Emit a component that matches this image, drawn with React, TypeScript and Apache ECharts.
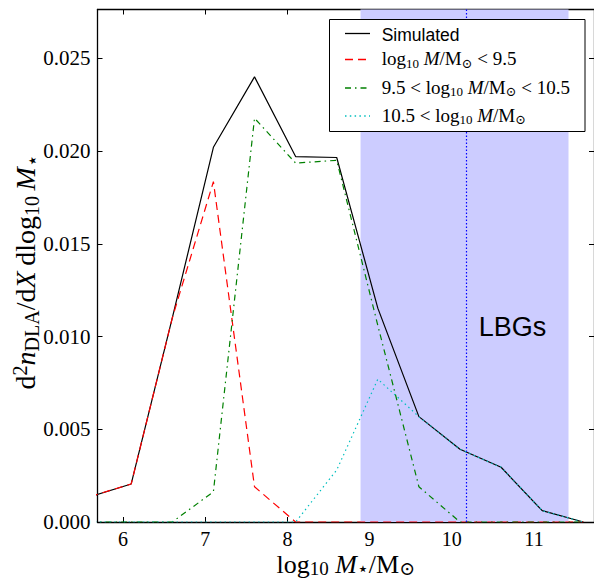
import React, { useEffect, useRef } from "react";
import * as echarts from "echarts";

// log10 stellar-mass bin centres
const massBins = [5.6, 6.1, 6.6, 7.1, 7.6, 8.1, 8.6, 9.1, 9.6, 10.1, 10.6, 11.1, 11.6];
const simulated = [0.00137, 0.00205, 0.011, 0.0202, 0.024, 0.0197, 0.01965, 0.01153, 0.00568, 0.00392, 0.00295, 0.00061, 0.0];
const lowHalo = [0.00137, 0.00205, 0.011, 0.01835, 0.0019, 0.0, 0.0, 0.0, 0.0, 0.0, 0.0, 0.0, 0.0];
const midHalo = [0.0, 0.0, 0.0, 0.00163, 0.02177, 0.01935, 0.0195, 0.0106, 0.0019, 0.0, 0.0, 0.0, 0.0];
const highHalo = [0.0, 0.0, 0.0, 0.0, 0.0, 0.0, 0.0028, 0.0077, 0.00568, 0.00392, 0.00295, 0.00061, 0.0];

const xTicks = [6, 7, 8, 9, 10, 11];
const yTicks = [0, 0.005, 0.01, 0.015, 0.02, 0.025];
const xRange = [5.69, 11.73];
const yRange = [0, 0.02763];
const lbgBand = [8.89, 11.42];
const lbgMedian = 10.18;

const SERIF = '"Liberation Serif", "DejaVu Serif", serif';
const SANS = '"Liberation Sans", Arial, sans-serif';

export default function App() {
  const ref = useRef<HTMLDivElement>(null);
  useEffect(() => {
    document.body.style.margin = "0";
    const chart = echarts.init(ref.current!, null, { renderer: "svg" });
    const pair = (ys: number[]) => massBins.map((x, i) => [x, ys[i]]);
    const spine = { show: true, onZero: false, lineStyle: { color: "#000", width: 1.3 } };
    const tick = (vals: number[]) => ({
      show: true,
      inside: true,
      length: 5,
      customValues: vals,
      lineStyle: { color: "#000", width: 1 },
    });

    const xTitleRich = {
      i: { fontFamily: SERIF, fontSize: 26, fontStyle: "italic", lineHeight: 28, color: "#000" },
      s: { fontFamily: SERIF, fontSize: 19, lineHeight: 17, verticalAlign: "bottom", color: "#000" },
    };
    const yTitleRich = {
      i: { fontFamily: SERIF, fontSize: 28, fontStyle: "italic", lineHeight: 32, color: "#000" },
      s: { fontFamily: SERIF, fontSize: 20, lineHeight: 20, verticalAlign: "bottom", color: "#000" },
      sup: { fontFamily: SERIF, fontSize: 20, lineHeight: 20, verticalAlign: "top", color: "#000" },
    };
    const legRich = {
      i: { fontFamily: SERIF, fontSize: 19, fontStyle: "italic", lineHeight: 22, color: "#000" },
      s: { fontFamily: SERIF, fontSize: 13, lineHeight: 12, verticalAlign: "bottom", color: "#000" },
    };

    const legendRows = [
      { y: 33.5, ty: 35, color: "#000000", dash: null as number[] | null, text: "Simulated", sans: true },
      { y: 59.5, ty: 58.5, color: "#ff0000", dash: [8, 5], text: "log{s|10} {i|M}/M{s|⊙} < 9.5", sans: false },
      { y: 88, ty: 87, color: "#008000", dash: [6, 4, 1.5, 4], text: "9.5 < log{s|10} {i|M}/M{s|⊙} < 10.5", sans: false },
      { y: 116, ty: 115, color: "#00bfbf", dash: [1.5, 3.3], text: "10.5 < log{s|10} {i|M}/M{s|⊙}", sans: false },
    ];

    const legendGraphics: any[] = [
      {
        type: "rect",
        shape: { x: 329.5, y: 19.5, width: 255.5, height: 112 },
        style: { fill: "#fff", stroke: "#000", lineWidth: 1 },
        z: 100,
      },
    ];
    legendRows.forEach((r) => {
      legendGraphics.push({
        type: "line",
        shape: { x1: 345, y1: r.y, x2: 370, y2: r.y },
        style: { stroke: r.color, lineWidth: 1.3, lineDash: r.dash || undefined },
        z: 101,
      });
      legendGraphics.push({
        type: "text",
        x: 381.7,
        y: r.ty,
        style: r.sans
          ? { text: r.text, fontFamily: SANS, fontSize: 17.5, fill: "#000", align: "left", verticalAlign: "middle" }
          : {
              text: r.text,
              fontFamily: SERIF,
              fontSize: 19,
              lineHeight: 22,
              fill: "#000",
              align: "left",
              verticalAlign: "middle",
              rich: legRich,
            },
        z: 101,
      });
    });

    const lineSeries = (name: string, ys: number[], color: string, type: any, z: number, extra: any = {}) => ({
      name,
      type: "line",
      data: pair(ys),
      symbol: "none",
      showSymbol: false,
      clip: true,
      z,
      lineStyle: { color, width: 1.2, type },
      silent: true,
      ...extra,
    });

    chart.setOption({
      animation: false,
      backgroundColor: "#fff",
      grid: { left: 97.5, top: 9.5, right: 0, bottom: 57, containLabel: false, outerBoundsMode: "none" },
      xAxis: [
        {
          type: "value",
          position: "bottom",
          min: xRange[0],
          max: xRange[1],
          axisLine: spine,
          axisTick: tick(xTicks),
          splitLine: { show: false },
          axisLabel: {
            customValues: xTicks,
            fontFamily: SERIF,
            fontSize: 20,
            lineHeight: 20,
            color: "#000",
            margin: 6.5,
            formatter: (v: number) => String(v),
          },
          name: "log{s|10} {i|M}{s|⋆}/M{s|⊙}",
          nameLocation: "middle",
          nameGap: 28.2,
          nameMoveOverlap: false,
          nameTextStyle: {
            fontFamily: SERIF,
            fontSize: 26,
            lineHeight: 28,
            color: "#000",
            rich: xTitleRich,
          },
        },
        {
          type: "value",
          position: "top",
          min: xRange[0],
          max: xRange[1],
          axisLine: spine,
          axisTick: tick(xTicks),
          axisLabel: { show: false },
          splitLine: { show: false },
        },
      ],
      yAxis: [
        {
          type: "value",
          position: "left",
          min: yRange[0],
          max: yRange[1],
          axisLine: spine,
          axisTick: tick(yTicks),
          splitLine: { show: false },
          axisLabel: {
            customValues: yTicks,
            fontFamily: SERIF,
            fontSize: 21,
            color: "#000",
            margin: 7,
            formatter: (v: number) => v.toFixed(3),
          },
          name: "d{sup|2}{i|n}{s|DLA}/d{i|X}\u2009dlog{s|10}\u2009{i|M}{s|⋆}",
          nameLocation: "middle",
          nameGap: 56,
          nameMoveOverlap: false,
          nameTextStyle: {
            fontFamily: SERIF,
            fontSize: 28,
            lineHeight: 32,
            color: "#000",
            padding: [0, 12, 0, 0],
            rich: yTitleRich,
          },
        },
        {
          type: "value",
          position: "right",
          min: yRange[0],
          max: yRange[1],
          axisLine: spine,
          axisTick: tick(yTicks),
          axisLabel: { show: false },
          splitLine: { show: false },
        },
      ],
      series: [
        lineSeries("Simulated", simulated, "#000000", "solid", 2, {
          markArea: {
            silent: true,
            itemStyle: { color: "#ccccff" },
            data: [[{ xAxis: lbgBand[0] }, { xAxis: lbgBand[1] }]],
          },
          markLine: {
            silent: true,
            symbol: ["none", "none"],
            label: { show: false },
            lineStyle: { color: "#0000ff", type: [1.5, 2], width: 1.2 },
            data: [{ xAxis: lbgMedian }],
          },
        }),
        lineSeries("low", lowHalo, "#ff0000", [8, 5], 3),
        lineSeries("mid", midHalo, "#008000", [6, 4, 1.5, 4], 4),
        lineSeries("high", highHalo, "#00bfbf", [1.5, 3.3], 5),
      ],
      graphic: [
        ...legendGraphics,
        {
          type: "text",
          x: 512.5,
          y: 326.7,
          style: {
            text: "LBGs",
            fontFamily: SANS,
            fontSize: 27,
            fill: "#000",
            align: "center",
            verticalAlign: "middle",
          },
          z: 50,
        },
      ],
    });
    return () => chart.dispose();
  }, []);
  return <div ref={ref} style={{ position: "absolute", left: 0, top: 0, width: 594, height: 579 }} />;
}
